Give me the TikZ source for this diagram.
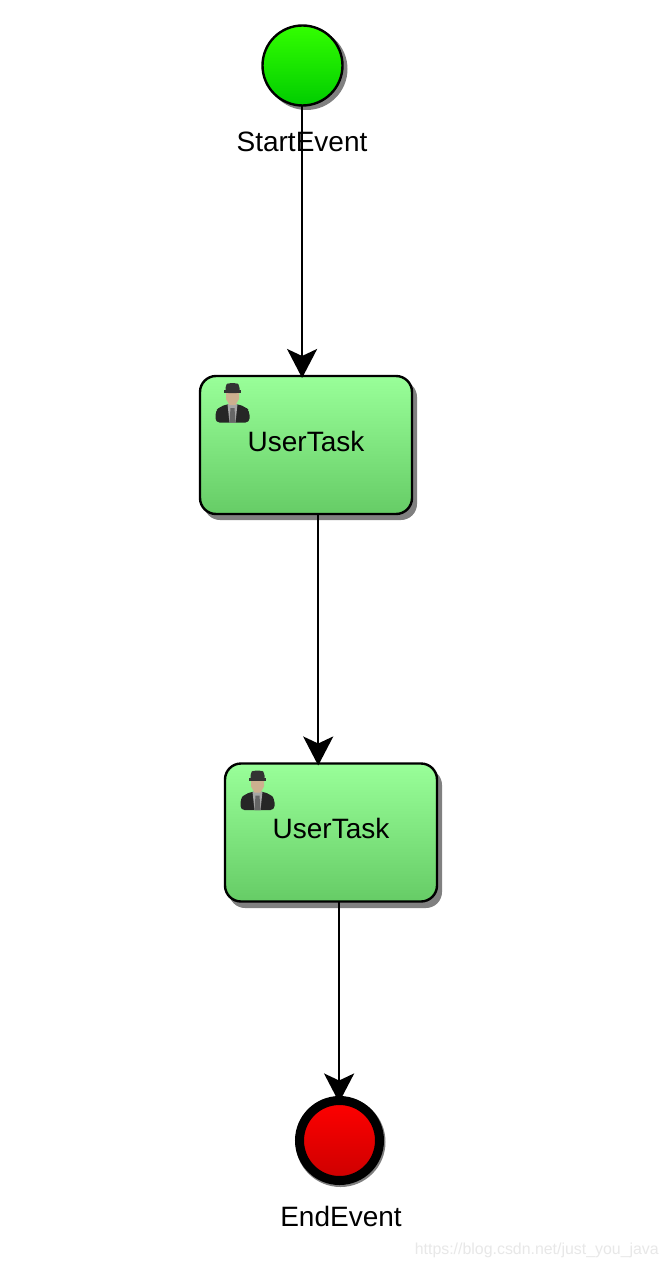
\documentclass[tikz,border=0pt]{standalone}
\usepackage{fontspec}
\setmainfont{Liberation Sans}
\usetikzlibrary{arrows.meta}
\definecolor{taskTop}{HTML}{99FF99}
\definecolor{taskBot}{HTML}{66CC66}
\definecolor{startTop}{HTML}{33FF00}
\definecolor{startBot}{HTML}{00CC00}
\definecolor{endTop}{HTML}{FF0000}
\definecolor{endBot}{HTML}{CC0000}
\definecolor{shadowGray}{HTML}{808080}
\definecolor{skinTone}{HTML}{CDB08F}
\tikzset{
  x=1pt,y=-1pt,
  shadowshape/.style={fill=shadowGray,draw=none},
  taskbox/.style={draw=black,line width=2.4pt,rounded corners=16pt,minimum width=212pt,minimum height=138pt,
    outer sep=0pt,inner sep=0pt,top color=taskTop,bottom color=taskBot},
  startev/.style={circle,draw=black,line width=2.4pt,minimum size=80pt,inner sep=0pt,outer sep=0pt,top color=startTop,bottom color=startBot},
  endev/.style={circle,draw=black,line width=9pt,minimum size=80pt,inner sep=0pt,outer sep=0pt,top color=endTop,bottom color=endBot},
  evlabel/.style={font=\fontsize{28}{30}\selectfont,inner sep=0pt},
  flow/.style={draw=black,line width=2.4pt,shorten >=-2pt,-{Stealth[length=29pt,width=30pt,inset=7pt]}},
  waterlabel/.style={font=\fontsize{15.9}{18}\selectfont,text=black!9,inner sep=0pt}
}
% small user icon, origin at its top left corner (34 x 40)
\newcommand{\usericon}[2]{%
  \begin{scope}[shift={(#1,#2)}]
    \fill[black!85,rounded corners=4pt] (0,39.5) -- (0,28) -- (4,24) -- (12,21) -- (22,21) -- (30,24) -- (34,28) -- (34,39.5) -- cycle;
    \fill[black!35] (12,21) -- (22,21) -- (20,39.5) -- (14,39.5) -- cycle;
    \fill[black!60] (15,25) -- (19,25) -- (20,39.5) -- (14,39.5) -- cycle;
    \fill[skinTone] (10.5,6) -- (23.5,6) -- (23.5,16) -- (20,22) -- (14,22) -- (10.5,16) -- cycle;
    \fill[black!80,rounded corners=3pt] (10,10) -- (10,2) -- (13,0) -- (21,0) -- (24,2) -- (24,10) -- cycle;
    \fill[black!80] (8.5,7) rectangle (25.5,10);
  \end{scope}}
\begin{document}
\begin{tikzpicture}
  \useasboundingbox[fill=white] (0,0) rectangle (668,1268);
  % shadows
  \fill[shadowshape] (306.5,69) circle[radius=41];
  \fill[shadowshape,rounded corners=16pt] (204,381) rectangle (417,520);
  \fill[shadowshape,rounded corners=16pt] (229,769) rectangle (442,908);
  \fill[shadowshape] (340.5,1142) circle[radius=45];
  % nodes
  \node[startev] (start) at (302.5,65.5) {};
  \node[taskbox] (task1) at (306,445) {};
  \node[taskbox] (task2) at (331,832.5) {};
  \node[endev] (end) at (339.5,1140.5) {};
  \node[evlabel] (t1) at (306,441) {UserTask};
  \node[evlabel] (t2) at (331,828) {UserTask};
  \usericon{215.5}{383}
  \usericon{240.5}{770.5}
  \node[evlabel] (startlabel) at (302,142) {StartEvent};
  \node[evlabel] (endlabel) at (341,1216) {EndEvent};
  \node[waterlabel,anchor=east] (water) at (659,1250) {https://blog.csdn.net/just\_you\_java};
  % connectors
  \coordinate (o1) at ([xshift=-0.4pt]start.south);
  \coordinate (o2) at (318.2,514);
  \coordinate (o3) at (339.1,901);
  \draw[flow] (o1) -- (o1 |- task1.north);
  \draw[flow] (o2) -- (o2 |- task2.north);
  \draw[flow] (o3) -- (o3 |- end.north);
\end{tikzpicture}
\end{document}
